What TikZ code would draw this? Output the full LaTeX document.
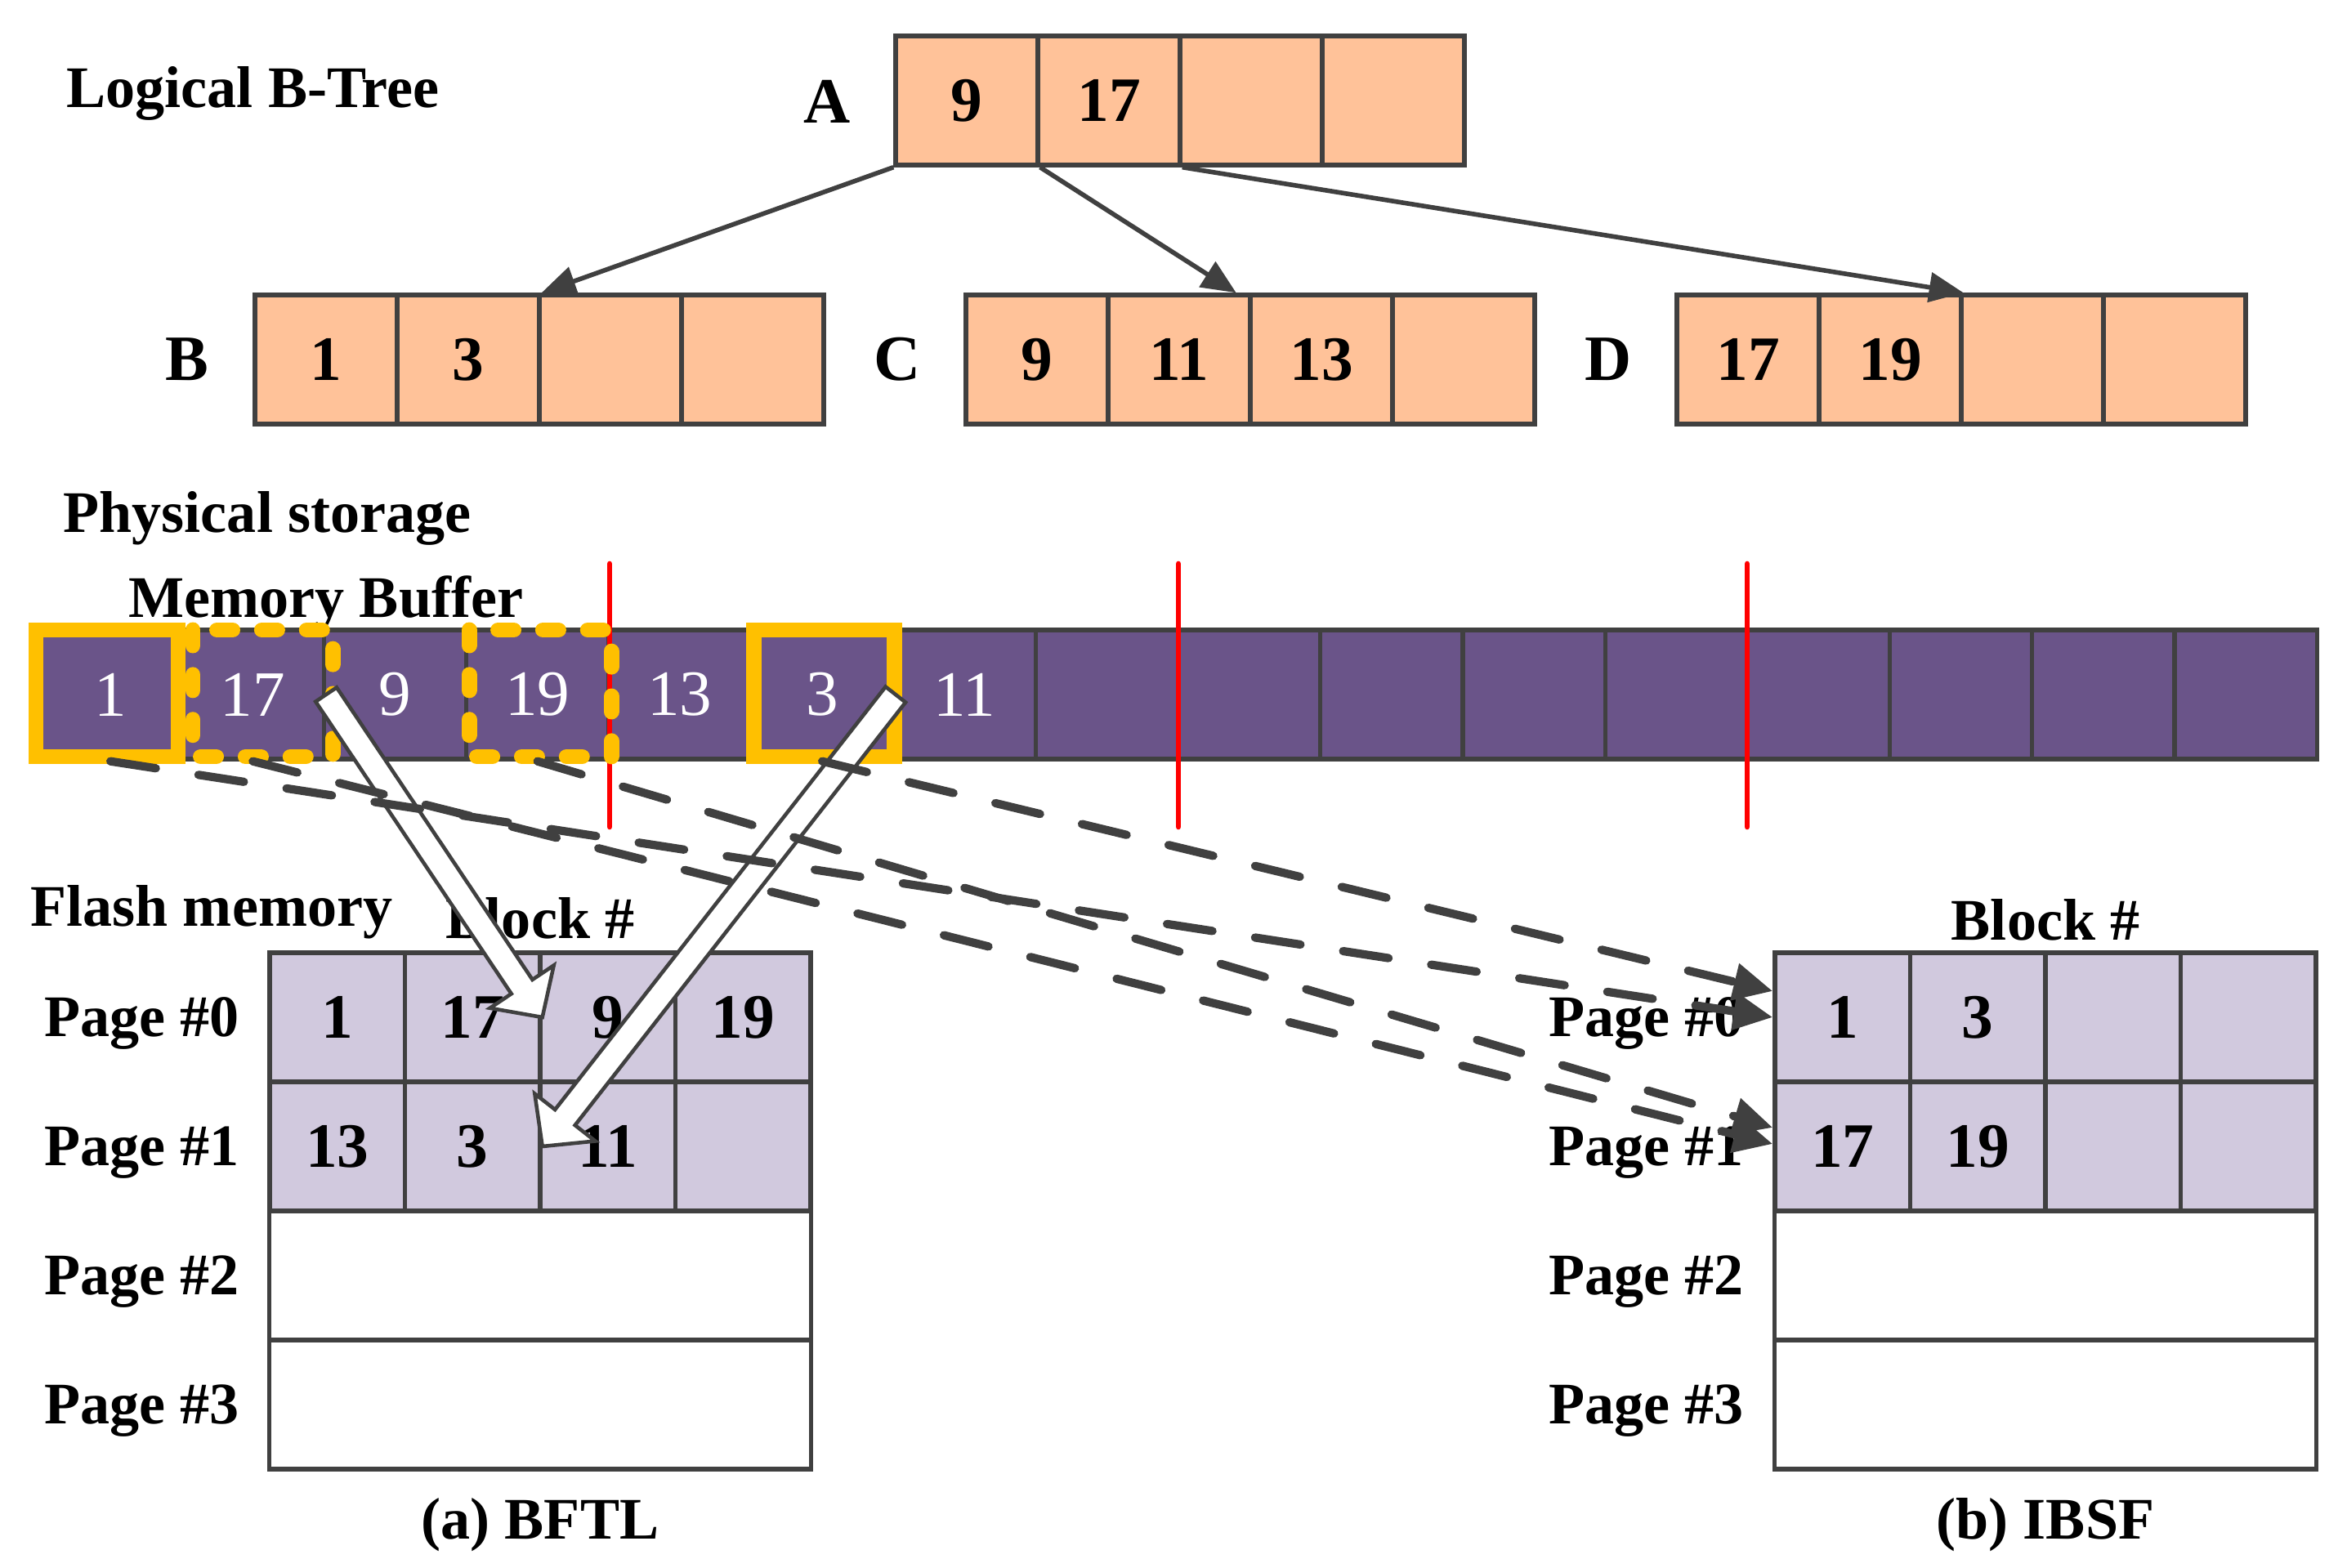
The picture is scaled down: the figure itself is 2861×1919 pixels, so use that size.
\documentclass[tikz,border=0pt]{standalone}
\usepackage{fontspec}
\setmainfont{Liberation Serif}
\usetikzlibrary{calc,arrows.meta}
\definecolor{treefill}{HTML}{FFC299}
\definecolor{memfill}{HTML}{6A5489}
\definecolor{blkfill}{HTML}{D1C9DE}
\definecolor{edgec}{HTML}{404040}
\definecolor{hlc}{HTML}{FFC000}
\definecolor{redc}{HTML}{FF0000}
\newcommand\hollowarr[2]{%
  \coordinate (hb) at ($(#2)!0.45cm!(#1)$);
  \filldraw[hollow] ($(#1)!0.155cm!90:(#2)$) -- ($(hb)!0.155cm!90:(#2)$) -- ($(hb)!0.47cm!90:(#2)$) -- (#2) -- ($(hb)!0.47cm!-90:(#2)$) -- ($(hb)!0.155cm!-90:(#2)$) -- ($(#1)!0.155cm!-90:(#2)$) -- cycle;}
\tikzset{
 numfont/.style={font=\fontsize{22}{26}\selectfont\bfseries},
 tcell/.style={draw=edgec, fill=treefill, line width=1.5pt, minimum width=1.74cm, minimum height=1.58cm, inner sep=0pt, numfont},
 mcell/.style={draw=edgec, fill=memfill, line width=1.5pt, minimum width=1.742cm, minimum height=1.58cm, inner sep=0pt, text=white, font=\fontsize{22.5}{26}\selectfont},
 bcell/.style={draw=edgec, fill=blkfill, line width=1.5pt, minimum width=1.655cm, minimum height=1.58cm, inner sep=0pt, numfont},
 bwide/.style={draw=edgec, fill=white, line width=1.5pt, minimum width=6.62cm, minimum height=1.58cm, inner sep=0pt},
 nlabel/.style={font=\fontsize{22.5}{27}\selectfont\bfseries, inner sep=0pt},
 heading/.style={font=\fontsize{20.5}{24}\selectfont\bfseries, inner sep=0pt},
 tarrow/.style={draw=edgec, line width=1.6pt, -{Triangle[length=0.42cm,width=0.36cm]}},
 dasharr/.style={draw=edgec, line width=2.9pt, line cap=round, dash pattern=on 16pt off 15pt, -{Triangle[length=0.48cm,width=0.44cm]}},
 hlsolid/.style={draw=hlc, line width=5.4pt},
 hldots/.style={draw=hlc, line width=5.4pt, line cap=round, dash pattern=on 5.4pt off 10.2pt},
 redline/.style={draw=redc, line width=1.9pt, line cap=round},
 hollow/.style={draw=edgec, fill=white, line width=1.3pt, line join=miter},
}
\begin{document}
\begin{tikzpicture}[x=0.01cm,y=-0.01cm]
\useasboundingbox (0,0) rectangle (2861,1919);
% headings
\node[heading, anchor=base west] (hlog) at (81,132) {Logical B-Tree};
\node[heading, anchor=base west] (hphy) at (77,652) {Physical storage};
\node[heading, anchor=base west] (hmem) at (157,755) {Memory Buffer};
\node[heading, anchor=base west] (hfla) at (37,1133) {Flash memory};
% tree
\foreach \t [count=\i] in {9,17,{},{}} \node[tcell] (A\i) at ({1183+174*(\i-1)},123) {\t};
\foreach \t [count=\i] in {1,3,{},{}} \node[tcell] (B\i) at ({399+174*(\i-1)},440) {\t};
\foreach \t [count=\i] in {9,11,13,{}} \node[tcell] (C\i) at ({1269+174*(\i-1)},440) {\t};
\foreach \t [count=\i] in {17,19,{},{}} \node[tcell] (D\i) at ({2139+174*(\i-1)},440) {\t};
\node[nlabel] (lA) at (1012,124) {A};
\node[nlabel] (lB) at (229,440) {B};
\node[nlabel] (lC) at (1098,440) {C};
\node[nlabel] (lD) at (1968,440) {D};
\coordinate (ctip) at ($(C2.north east)+(-20,0)$);
\draw[tarrow] (A1.south west) -- (B2.north east);
\draw[tarrow] (A1.south east) -- (ctip);
\draw[tarrow] (A2.south east) -- (D2.north east);
% memory row
\foreach \t [count=\i] in {1,17,9,19,13,3,11,{},{},{},{},{},{},{},{},{}} \node[mcell] (m\i) at ({135.1+174.2*(\i-1)},850) {\t};
\foreach \x in {746,1442,2138} \draw[redline] (\x,690) -- (\x,1012);
\draw[hlsolid] (44,771) rectangle (218,926);
\draw[hlsolid] (922,771) rectangle (1094,926);
\draw[hldots] (236,771) rectangle (407,926);
\draw[hldots] (574,771) rectangle (748,926);
% flash blocks
\foreach \t [count=\i] in {1,17,9,19} \node[bcell] (a0\i) at ({412.75+165.5*(\i-1)},1245) {\t};
\foreach \t [count=\i] in {13,3,11,{}} \node[bcell] (a1\i) at ({412.75+165.5*(\i-1)},1403) {\t};
\node[bwide] (a2) at (661,1561) {};
\node[bwide] (a3) at (661,1719) {};
\foreach \t [count=\i] in {1,3,{},{}} \node[bcell] (b0\i) at ({2254.75+165.5*(\i-1)},1245) {\t};
\foreach \t [count=\i] in {17,19,{},{}} \node[bcell] (b1\i) at ({2254.75+165.5*(\i-1)},1403) {\t};
\node[bwide] (b2) at (2503,1561) {};
\node[bwide] (b3) at (2503,1719) {};
\foreach \k/\y in {0/1268,1/1426,2/1584,3/1742} {
  \node[heading, anchor=base east] (pa\k) at (293,\y) {Page \#\k};
  \node[heading, anchor=base east] (pb\k) at (2134,\y) {Page \#\k};
}
\node[heading, anchor=base] (blka) at (661,1148) {Block \#};
\node[heading, anchor=base] (blkb) at (2503,1150) {Block \#};
\node[heading, anchor=base] (capa) at (661,1883) {(a) BFTL};
\node[heading, anchor=base] (capb) at (2503,1883) {(b) IBSF};
% hollow arrows
\hollowarr{m2.east}{a02.east}
\hollowarr{m6.east}{a12.east}
% dashed arrows
\coordinate (p0a) at ($(b01.west)+(0,-32)$);
\coordinate (p0b) at ($(b01.west)+(0,0)$);
\coordinate (p1a) at ($(b11.west)+(0,-23)$);
\coordinate (p1b) at ($(b11.west)+(0,-3)$);
\draw[dasharr] (m1.south) -- (p0b);
\draw[dasharr] (m6.south) -- (p0a);
\draw[dasharr] (m4.south) -- (p1a);
\draw[dasharr] (m2.south) -- (p1b);
\end{tikzpicture}
\end{document}
